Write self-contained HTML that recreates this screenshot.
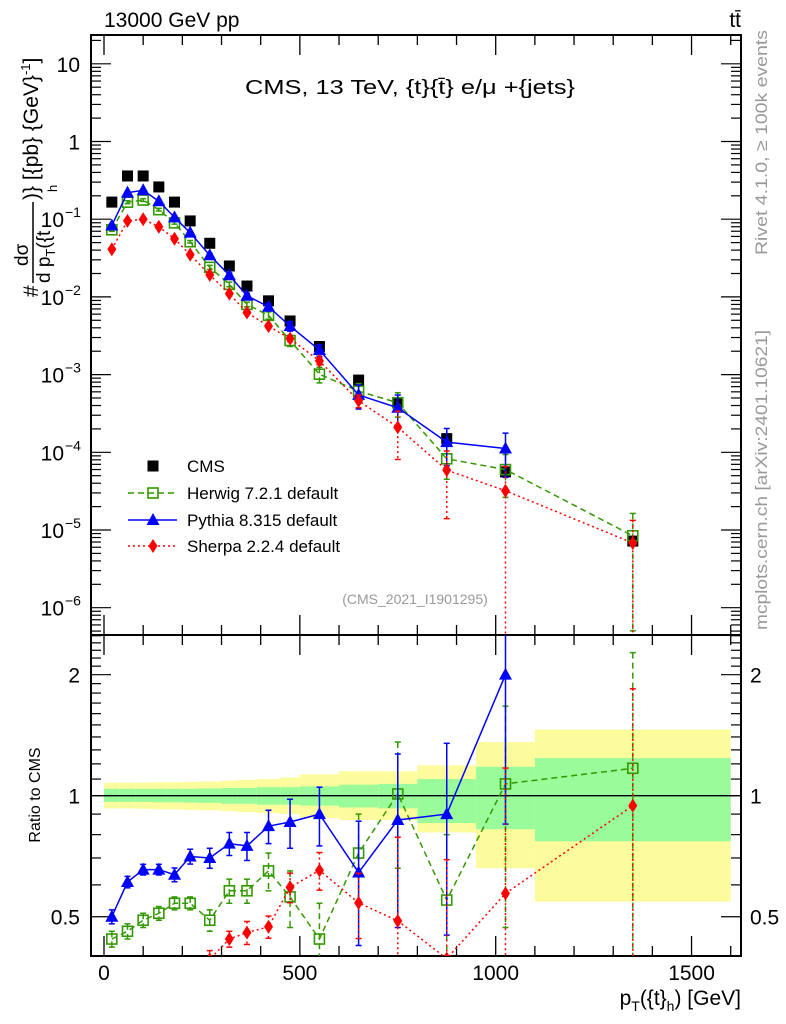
<!DOCTYPE html>
<html><head><meta charset="utf-8">
<style>
html,body{margin:0;padding:0;background:#fff;width:786px;height:1024px;overflow:hidden;}
svg{display:block;font-family:"Liberation Sans",sans-serif;}
</style></head>
<body>
<svg id="chart" width="786" height="1024" viewBox="0 0 786 1024" xmlns="http://www.w3.org/2000/svg">
<defs>
<clipPath id="clipMain"><rect x="91" y="35" width="650" height="600"/></clipPath>
<clipPath id="clipRatio"><rect x="91" y="635" width="650" height="321"/></clipPath>
</defs>
<text x="104" y="27" font-size="21">13000 GeV pp</text>
<text x="741" y="27" font-size="21" text-anchor="end">tt̄</text>
<text x="245" y="94" font-size="20" textLength="330" lengthAdjust="spacingAndGlyphs">CMS, 13 TeV, {t}{t̄} e/μ +{jets}</text>
<text x="415" y="604" font-size="14" fill="#999" text-anchor="middle">(CMS_2021_I1901295)</text>
<text transform="translate(767,255) rotate(-90)" font-size="17" fill="#999" textLength="225" lengthAdjust="spacingAndGlyphs">Rivet 4.1.0, ≥ 100k events</text>
<text transform="translate(767,630) rotate(-90)" font-size="17" fill="#999" textLength="300" lengthAdjust="spacingAndGlyphs">mcplots.cern.ch [arXiv:2401.10621]</text>
<g transform="translate(30,170) rotate(-90)" font-size="21">
<text x="-127" y="8">#</text>
<text x="-96" y="-2" font-size="19">dσ</text>
<line x1="-113" y1="3" x2="-32" y2="3" stroke="#000" stroke-width="1.5"/>
<text x="-113" y="20" font-size="19">d p<tspan font-size="13" dy="5">T</tspan><tspan dy="-5">({t</tspan></text>
<text x="-22" y="27" font-size="13">h</text>
<text x="-30" y="8">)} [{pb} {GeV}<tspan font-size="13" dy="-8">-1</tspan><tspan dy="8">]</tspan></text>
</g>
<text transform="translate(40,795) rotate(-90)" font-size="16" text-anchor="middle">Ratio to CMS</text>
<text x="741" y="1005" font-size="21" text-anchor="end">p<tspan font-size="14" dy="6">T</tspan><tspan dy="-6">({t}</tspan><tspan font-size="14" dy="6">h</tspan><tspan dy="-6">) [GeV]</tspan></text>
<g id="bands" clip-path="url(#clipRatio)"></g>
<g id="axes"></g>
<g id="mainMarks" clip-path="url(#clipMain)"></g>
<g id="ratioMarks" clip-path="url(#clipRatio)"></g>
<g id="legend"></g>
</svg>
<script>
const binEdges=[0,40,80,120,160,200,240,300,340,390,450,500,600,700,800,950,1100,1600];
const binCenters=[20,60,100,140,180,220,270,320,365,420,475,550,650,750,875,1025,1350];
const cmsValues=[0.166,0.36,0.36,0.26,0.166,0.095,0.049,0.025,0.0138,0.0089,0.0049,0.0023,8.5e-4,4.3e-4,1.5e-4,5.6e-5,7.2e-6];
const herwigRatio=[0.44,0.46,0.49,0.51,0.54,0.54,0.49,0.58,0.58,0.65,0.56,0.44,0.72,1.01,0.55,1.07,1.17];
const herwigErr=[0.02,0.02,0.02,0.02,0.02,0.02,0.03,0.04,0.04,0.07,0.09,0.1,0.18,0.35,0.25,0.6,1.1];
const pythiaRatio=[0.50,0.61,0.655,0.655,0.636,0.706,0.70,0.76,0.75,0.84,0.86,0.90,0.644,0.87,0.90,2.0,null];
const pythiaErr=[0.02,0.02,0.02,0.02,0.025,0.03,0.04,0.05,0.06,0.08,0.12,0.15,0.22,0.4,0.45,1.15,0];
const sherpaMain=[0.041,0.095,0.10,0.08,0.056,0.035,0.0192,0.011,0.0063,0.0042,0.0029,0.0015,4.6e-4,2.1e-4,5.9e-5,3.2e-5,6.8e-6];
const sherpaErr=[0.01,0.01,0.01,0.01,0.01,0.01,0.02,0.02,0.03,0.03,0.05,0.07,0.1,0.3,0.3,0.6,0.9];
const yellowUp=[1.077,1.077,1.078,1.08,1.08,1.082,1.085,1.09,1.095,1.1,1.11,1.13,1.15,1.15,1.19,1.36,1.46];
const yellowDn=[0.93,0.93,0.928,0.925,0.925,0.922,0.92,0.915,0.91,0.905,0.9,0.88,0.87,0.87,0.81,0.66,0.545];
const greenUp=[1.04,1.04,1.04,1.04,1.04,1.04,1.042,1.045,1.045,1.05,1.05,1.055,1.065,1.07,1.10,1.18,1.24];
const greenDn=[0.965,0.965,0.965,0.963,0.963,0.962,0.96,0.955,0.955,0.95,0.95,0.945,0.935,0.93,0.855,0.825,0.77];
const mainTicks=[10,1,0.1,0.01,0.001,1e-4,1e-5,1e-6];
const mainTickLabels=[["10",""],["1",""],["10","−1"],["10","−2"],["10","−3"],["10","−4"],["10","−5"],["10","−6"]];
const ratioTicks=[2,1,0.5];
const ratioTickLabels=["2","1","0.5"];
const xTicks=[0,500,1000,1500];
const xTickLabels=["0","500","1000","1500"];

const NS="http://www.w3.org/2000/svg";
const L=91,R=741,T=35,MID=635,B=956;
const X=v=>104+v*0.3917;
const Ym=v=>141.5-77.7*Math.log10(v);
const Yr=v=>795.7-402*Math.log10(v);
function mk(tag,attrs,parent){const e=document.createElementNS(NS,tag);for(const k in attrs)e.setAttribute(k,attrs[k]);parent.appendChild(e);return e;}
const axes=document.getElementById('axes'),bands=document.getElementById('bands'),mm=document.getElementById('mainMarks'),rm=document.getElementById('ratioMarks'),leg=document.getElementById('legend');

for(let i=0;i<binCenters.length;i++){
  const x1=X(binEdges[i]),x2=X(binEdges[i+1]);
  const y=mk('rect',{x:x1,y:Yr(yellowUp[i]),width:x2-x1,height:Yr(yellowDn[i])-Yr(yellowUp[i]),fill:'#fdfc9c'},bands);
  
  
  const g=mk('rect',{x:x1,y:Yr(greenUp[i]),width:x2-x1,height:Yr(greenDn[i])-Yr(greenUp[i]),fill:'#99fb99'},bands);
  
  
}
const one=mk('line',{x1:L,x2:R,y1:Yr(1),y2:Yr(1),stroke:'#000','stroke-width':1.3},bands);



const f1=mk('rect',{x:L,y:T,width:R-L,height:MID-T,fill:'none',stroke:'#000','stroke-width':2},axes);


const f2=mk('rect',{x:L,y:MID,width:R-L,height:B-MID,fill:'none',stroke:'#000','stroke-width':2},axes);



for(let v=0;v<=1600;v+=100){
  const maj=v%500===0,len=maj?20:10;
  [[T,1],[MID,-1],[MID,1],[B,-1]].forEach(([y0,d])=>{
    mk('line',{x1:X(v),x2:X(v),y1:y0,y2:y0+d*len,stroke:'#000','stroke-width':1.3},axes);
  });
}
xTicks.forEach((v,i)=>{
  const t=mk('text',{x:X(v),y:980,'font-size':21,'text-anchor':'middle'},axes);
  t.textContent=xTickLabels[i];
  
  
});
for(let e=-7;e<=1;e++){
  for(let m=1;m<10;m++){
    const v=m*Math.pow(10,e),y=Ym(v);
    if(y<T||y>MID)continue;
    const len=m===1?20:10;
    mk('line',{x1:L,x2:L+len,y1:y,y2:y,stroke:'#000','stroke-width':1.2},axes);
    mk('line',{x1:R,x2:R-len,y1:y,y2:y,stroke:'#000','stroke-width':1.2},axes);
  }
}
mainTicks.forEach((v,i)=>{
  const t=mk('text',{x:80,y:Ym(v)+8,'font-size':21,'text-anchor':'end'},axes);
  
  
  if(mainTickLabels[i][1]){
    t.setAttribute('x',64);
    t.textContent=mainTickLabels[i][0];
    const s=mk('text',{x:65,y:Ym(v)-2,'font-size':14},axes);
    s.textContent=mainTickLabels[i][1];
  } else t.textContent=mainTickLabels[i][0];
});
for(let r=0.4;r<=2.55;r+=0.1){
  const y=Yr(r);if(y<MID||y>B)continue;
  const maj=Math.abs(r-0.5)<1e-6||Math.abs(r-1)<1e-6||Math.abs(r-2)<1e-6;
  const len=maj?20:10;
  mk('line',{x1:L,x2:L+len,y1:y,y2:y,stroke:'#000','stroke-width':1.2},axes);
  mk('line',{x1:R,x2:R-len,y1:y,y2:y,stroke:'#000','stroke-width':1.2},axes);
}
ratioTicks.forEach((v,i)=>{
  const t=mk('text',{x:80,y:Yr(v)+8,'font-size':21,'text-anchor':'end'},axes);
  t.textContent=ratioTickLabels[i];
  
  
  const t2=mk('text',{x:750,y:Yr(v)+8,'font-size':21},axes);
  t2.textContent=ratioTickLabels[i];
  
  
});

function marker(type,x,y,parent,color){
  if(type==='sq')return mk('rect',{x:x-5.5,y:y-5.5,width:11,height:11,fill:'#000'},parent);
  if(type==='osq')return mk('rect',{x:x-5,y:y-5,width:10,height:10,fill:'#fff','fill-opacity':0,stroke:color,'stroke-width':1.6},parent);
  if(type==='tri')return mk('polygon',{points:`${x},${y-7} ${x+6.5},${y+5} ${x-6.5},${y+5}`,fill:color},parent);
  return mk('polygon',{points:`${x},${y-7} ${x+4.5},${y} ${x},${y+7} ${x-4.5},${y}`,fill:color},parent);
}
const series=[
  {name:'herwig',color:'#339900',dash:'6,4',type:'osq',ratio:herwigRatio,err:herwigErr},
  {name:'pythia',color:'#0000ff',dash:'',type:'tri',ratio:pythiaRatio,err:pythiaErr},
  {name:'sherpa',color:'#ff0000',dash:'2,3',type:'dia',ratio:sherpaMain.map((v,i)=>v/cmsValues[i]),err:sherpaErr}
];
cmsValues.forEach((v,i)=>{
  const m=marker('sq',X(binCenters[i]),Ym(v),mm);
  
  
});
series.forEach(s=>{
  const ptsM=[],ptsR=[];
  s.ratio.forEach((r,i)=>{
    if(r==null)return;
    ptsM.push([X(binCenters[i]),Ym(r*cmsValues[i]),i,r]);
    ptsR.push([X(binCenters[i]),Yr(r),i,r]);
  });
  [[ptsM,mm,Ym,true],[ptsR,rm,Yr,false]].forEach(([pts,par,Yf,isMain])=>{
    const pl=mk('polyline',{points:pts.map(p=>p[0]+','+p[1]).join(' '),fill:'none',stroke:s.color,'stroke-width':1.5,'stroke-dasharray':s.dash},par);
    
    
    pts.forEach(p=>{
      const i=p[2],r=p[3],e=s.err[i];
      const base=isMain?cmsValues[i]:1;
      const up=(r+e)*base,dn=Math.max(r-e,0.001)*base;
      mk('line',{x1:p[0],x2:p[0],y1:Yf(up),y2:Yf(dn),stroke:s.color,'stroke-width':1.5,'stroke-dasharray':s.dash},par);
      mk('line',{x1:p[0]-3,x2:p[0]+3,y1:Yf(up),y2:Yf(up),stroke:s.color,'stroke-width':1.5},par);
      mk('line',{x1:p[0]-3,x2:p[0]+3,y1:Yf(dn),y2:Yf(dn),stroke:s.color,'stroke-width':1.5},par);
      const m=marker(s.type,p[0],p[1],par,s.color);
      
      
    });
  });
});

const legItems=[
  {label:'CMS',type:'sq',color:'#000',dash:null},
  {label:'Herwig 7.2.1 default',type:'osq',color:'#339900',dash:'6,4'},
  {label:'Pythia 8.315 default',type:'tri',color:'#0000ff',dash:''},
  {label:'Sherpa 2.2.4 default',type:'dia',color:'#ff0000',dash:'2,3'}
];
const legY=[466,493,520,546];
legItems.forEach((it,i)=>{
  const g=mk('g',{},leg);
  
  
  if(it.dash!==null)mk('line',{x1:128,x2:177,y1:legY[i],y2:legY[i],stroke:it.color,'stroke-width':1.5,'stroke-dasharray':it.dash},g);
  marker(it.type,153,legY[i],g,it.color);
  const t=mk('text',{x:187,y:legY[i]+6,'font-size':17},g);
  t.textContent=it.label;
});
</script>
</body></html>
